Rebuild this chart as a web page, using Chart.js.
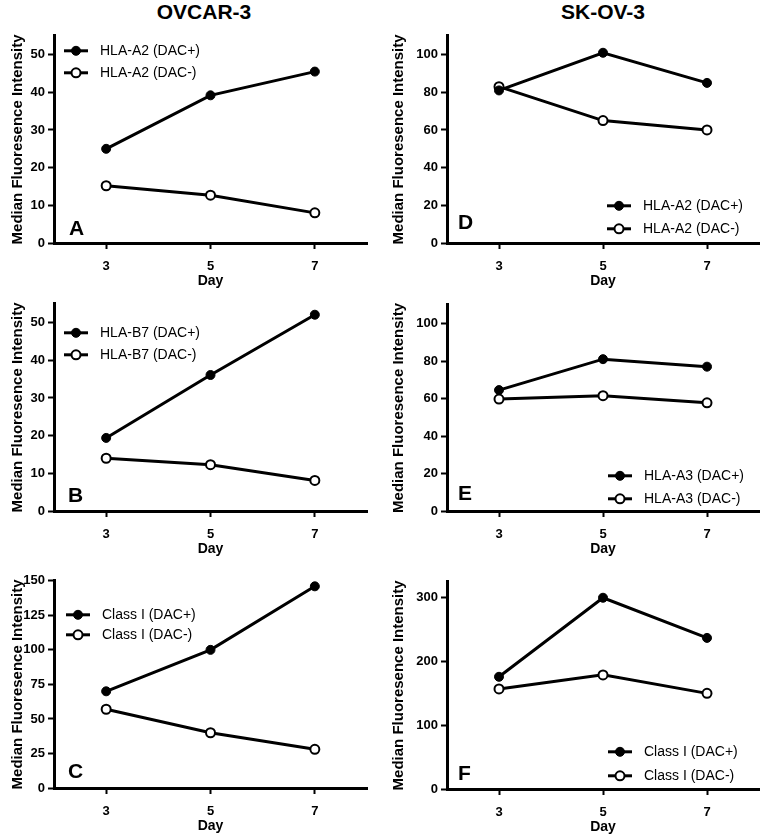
<!DOCTYPE html>
<html lang="en">
<head>
<meta charset="UTF-8">
<title>HLA class I expression after DAC — OVCAR-3 / SK-OV-3</title>
<script src="https://cdn.jsdelivr.net/npm/chart.js@4.4.0/dist/chart.umd.min.js"></script>
<style>
*{box-sizing:border-box;margin:0;padding:0}
html,body{width:761px;height:836px;overflow:hidden;background:#fff}
body{position:relative;font-family:"Liberation Sans",Arial,sans-serif;color:#000}
.ttl{position:absolute;top:0;width:200px;text-align:center;font-weight:700;font-size:21px;line-height:24px}
canvas{position:absolute}
</style>
</head>
<body>
<div class="ttl" style="left:104px">OVCAR-3</div>
<div class="ttl" style="left:503px">SK-OV-3</div>

<canvas id="cA" width="380" height="266" style="left:0;top:25px"></canvas>
<canvas id="cB" width="380" height="266" style="left:0;top:293px"></canvas>
<canvas id="cC" width="380" height="266" style="left:0;top:570px"></canvas>
<canvas id="cD" width="390" height="266" style="left:380px;top:25px"></canvas>
<canvas id="cE" width="390" height="265" style="left:380px;top:294px"></canvas>
<canvas id="cF" width="390" height="266" style="left:380px;top:571px"></canvas>

<script>
// x values shared by every panel
const days = [3, 5, 7];

// OVCAR-3
const ovA2Plus = [25, 39.2, 45.5];
const ovA2Minus = [15.2, 12.7, 8.0];
const ovB7Plus = [19.4, 36.1, 52.1];
const ovB7Minus = [14.0, 12.3, 8.1];
const ovClassPlus = [70, 100, 146];
const ovClassMinus = [57, 40, 28];

// SK-OV-3
const skA2Plus = [81, 101, 85];
const skA2Minus = [83, 65, 60];
const skA3Plus = [64.5, 81, 77];
const skA3Minus = [59.7, 61.5, 57.7];
const skClassPlus = [176, 300, 237];
const skClassMinus = [157, 179, 150];

const FONT = "'Liberation Sans', Arial, sans-serif";
Chart.defaults.font.family = FONT;
Chart.defaults.color = "#000";

// panel letter + in-plot legend (Prism style)
const panelDeco = {
  id: "panelDeco",
  afterDatasetsDraw(chart, args, o) {
    const { ctx, chartArea: a } = chart;
    ctx.save();
    ctx.fillStyle = "#000";
    ctx.textAlign = "left";
    ctx.textBaseline = "alphabetic";
    ctx.font = "bold 21px " + FONT;
    ctx.fillText(o.letter, a.left + o.letterX, a.bottom - o.letterY);

    ctx.font = "14px " + FONT;
    ctx.textBaseline = "middle";
    chart.data.datasets.forEach((ds, i) => {
      const x = a.left + o.legX, y = a.top + o.legY + i * o.legDy;
      ctx.strokeStyle = "#000";
      ctx.lineWidth = 3;
      ctx.beginPath(); ctx.moveTo(x, y); ctx.lineTo(x + 24, y); ctx.stroke();
      ctx.beginPath(); ctx.arc(x + 12, y, ds.pointRadius, 0, Math.PI * 2);
      ctx.fillStyle = ds.pointBackgroundColor; ctx.fill();
      ctx.lineWidth = ds.pointBorderWidth; ctx.stroke();
      ctx.fillStyle = "#000";
      ctx.fillText(ds.label, x + 36, y);
    });
    ctx.restore();
  }
};

function series(label, vals, filled) {
  return {
    label,
    data: days.map((d, i) => ({ x: d, y: vals[i] })),
    borderColor: "#000",
    borderWidth: 3,
    pointRadius: 4.5,
    pointBorderColor: "#000",
    pointBackgroundColor: filled ? "#000" : "#fff",
    pointBorderWidth: filled ? 1 : 2,
    tension: 0
  };
}

function panel(id, name, plus, minus, yMax, yStep, box, deco) {
  new Chart(document.getElementById(id), {
    type: "line",
    data: { datasets: [series(name + " (DAC+)", plus, true), series(name + " (DAC-)", minus, false)] },
    plugins: [panelDeco],
    options: {
      responsive: false, animation: false,
      layout: { padding: { top: 10, right: box.pr, left: 0, bottom: 0 } },
      plugins: { legend: { display: false }, tooltip: { enabled: false }, panelDeco: deco },
      scales: {
        x: {
          type: "linear", min: 2, max: 8,
          afterBuildTicks: s => { s.ticks = days.map(v => ({ value: v })); },
          afterFit: s => { s.height = 48; },
          border: { color: "#000", width: 3 },
          grid: { drawOnChartArea: false, tickLength: 6, tickWidth: 2, color: "#000" },
          ticks: { color: "#000", padding: 10, font: { size: 13, weight: "bold" } },
          title: { display: true, text: "Day", color: "#000", font: { size: 14, weight: "bold" }, padding: { top: 0, bottom: 1.5 } }
        },
        y: {
          min: 0, max: yMax,
          afterFit: s => { s.width = box.yw; },
          border: { color: "#000", width: 3 },
          grid: { drawOnChartArea: false, tickLength: 6, tickWidth: 2, color: "#000" },
          ticks: { stepSize: yStep, includeBounds: false, color: "#000", padding: 3, font: { size: 13, weight: "bold" } },
          title: { display: true, text: "Median Fluoresence Intensity", color: "#000", font: { size: 15, weight: "bold" }, padding: { top: box.tp, bottom: 0 } }
        }
      }
    }
  });
}

const leftCol = { yw: 54, pr: 13, tp: 8.5 };
const rightCol = { yw: 67, pr: 11, tp: 10 };

panel("cA", "HLA-A2", ovA2Plus, ovA2Minus, 55, 10, leftCol,
  { letter: "A", letterX: 15, letterY: 8, legX: 10, legY: 15, legDy: 22 });
panel("cB", "HLA-B7", ovB7Plus, ovB7Minus, 55, 10, leftCol,
  { letter: "B", letterX: 14, letterY: 9, legX: 10, legY: 29, legDy: 22 });
panel("cC", "Class I", ovClassPlus, ovClassMinus, 150, 25, leftCol,
  { letter: "C", letterX: 14, letterY: 10, legX: 12, legY: 34, legDy: 20 });
panel("cD", "HLA-A2", skA2Plus, skA2Minus, 110, 20, rightCol,
  { letter: "D", letterX: 11, letterY: 14, legX: 160, legY: 170, legDy: 23 });
panel("cE", "HLA-A3", skA3Plus, skA3Minus, 110, 20, rightCol,
  { letter: "E", letterX: 11, letterY: 11, legX: 161, legY: 171, legDy: 23 });
panel("cF", "Class I", skClassPlus, skClassMinus, 325, 100, rightCol,
  { letter: "F", letterX: 11, letterY: 9, legX: 161, legY: 170, legDy: 24 });
</script>
</body>
</html>
